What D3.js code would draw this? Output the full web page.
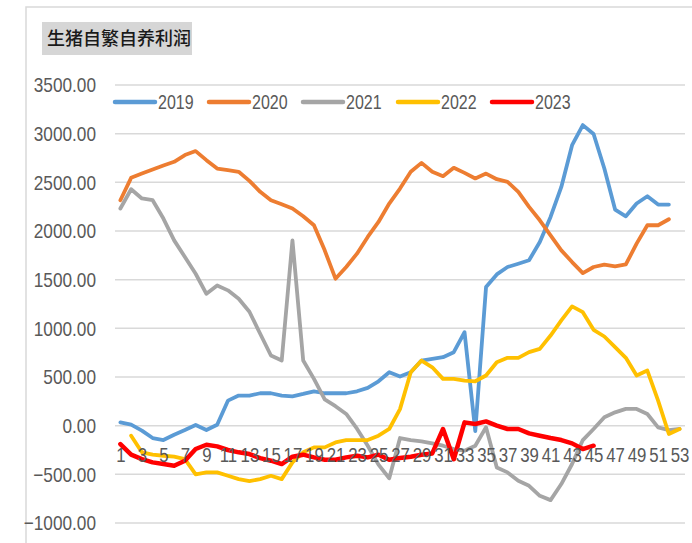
<!DOCTYPE html>
<html><head><meta charset="utf-8">
<script src="https://cdn.jsdelivr.net/npm/d3@7/dist/d3.min.js"></script>
<style>
html,body{margin:0;padding:0;background:#fff;}
svg{display:block;}
</style></head>
<body>
<script>
const weeks = d3.range(1, 54);
const tickLabels = weeks.filter(w => w % 2 === 1);
const yTicks = [-1000, -500, 0, 500, 1000, 1500, 2000, 2500, 3000, 3500];
const seriesNames = ["2019", "2020", "2021", "2022", "2023"];
const seriesColors = ["#5b9bd5", "#ed7d31", "#a5a5a5", "#ffc000", "#ff0000"];
const title = "生猪自繁自养利润";

const v2019 = [34,10,-51,-127,-148,-93,-45,7,-45,10,257,309,309,333,333,309,302,326,353,333,333,333,353,388,456,549,504,549,669,686,703,755,960,-55,1424,1554,1630,1664,1699,1887,2144,2453,2882,3088,2996,2642,2220,2151,2282,2357,2272,2272];
const v2020 = [2316,2546,2590,2632,2673,2711,2780,2821,2728,2642,2625,2608,2515,2402,2316,2275,2231,2151,2059,1801,1510,1630,1767,1939,2093,2282,2436,2608,2700,2608,2563,2649,2597,2540,2590,2532,2505,2402,2248,2110,1956,1801,1681,1568,1630,1654,1637,1657,1870,2059,2059,2121];
const v2021 = [2231,2429,2334,2316,2128,1904,1733,1561,1355,1441,1390,1304,1170,944,721,669,1904,669,481,270,200,120,-31,-206,-400,-540,-127,-148,-161,-182,-206,-240,-257,-206,-17,-429,-480,-566,-618,-721,-765,-600,-394,-148,-34,86,137,172,172,120,-17,-45,-34];
const v2022 = [null,-103,-274,-298,-309,-319,-343,-500,-480,-480,-515,-549,-570,-549,-515,-549,-377,-274,-223,-223,-172,-148,-148,-148,-103,-34,170,549,669,600,481,481,463,456,515,652,697,697,755,789,926,1081,1225,1166,985,916,806,697,515,566,257,-86,-34];
const v2023 = [-189,-298,-343,-377,-394,-412,-360,-240,-196,-213,-250,-274,-292,-333,-360,-394,-319,-298,-326,-350,-350,-326,-309,-326,-298,-350,-333,-319,-298,-285,-34,-345,34,17,44,0,-34,-34,-79,-103,-127,-148,-182,-240,-206];
const seriesValues = [v2019, v2020, v2021, v2022, v2023];

const W = 692, H = 543;
const svg = d3.select("body").append("svg").attr("width", W).attr("height", H);
const FONT = "'Liberation Sans',Arial,sans-serif";
const NARROW = "scale(0.82,1)";

// frame
svg.append("rect").attr("x", 26).attr("y", 7).attr("width", 700).attr("height", 600)
  .attr("fill", "none").attr("stroke", "#d9d9d9").attr("stroke-width", 1.5);

// title
svg.append("rect").attr("x", 42).attr("y", 22).attr("width", 150).attr("height", 33).attr("fill", "#d6d6d6");
svg.append("text").attr("x", 47).attr("y", 45).attr("font-family", "'Noto Sans CJK SC',sans-serif")
  .attr("font-size", 18).attr("font-weight", 500).attr("fill", "#1a1a1a").text(title);

const x = d3.scalePoint().domain(weeks).range([115, 685]).padding(0.5);
const y = d3.scaleLinear().domain([-1000, 3500]).range([523, 85]);

// gridlines
svg.append("g").selectAll("line").data(yTicks).join("line")
  .attr("x1", 115).attr("x2", 685).attr("y1", d => y(d)).attr("y2", d => y(d))
  .attr("stroke", "#d9d9d9").attr("stroke-width", 1.5);

// y axis labels
const yAxis = d3.axisLeft(y).tickValues(yTicks).tickFormat(d3.format(".2f")).tickSize(0).tickPadding(0);
const ga = svg.append("g").attr("transform", "translate(96,0)").call(yAxis);
ga.select(".domain").remove();
ga.selectAll("text").attr("x", 0).attr("font-family", FONT).attr("font-size", 21).attr("fill", "#595959")
  .attr("transform", NARROW);

// lines
const line = d3.line().defined(d => d != null).x((d, i) => x(weeks[i])).y(d => y(d));
seriesValues.forEach((vals, k) => {
  svg.append("path").datum(vals).attr("d", line).attr("fill", "none")
    .attr("stroke", seriesColors[k]).attr("stroke-width", k === 4 ? 4.5 : 3.8)
    .attr("stroke-linejoin", "round").attr("stroke-linecap", "round");
});

// x labels (at zero line)
const xAxis = d3.axisBottom(x).tickValues(tickLabels).tickSize(0).tickPadding(0);
const gx = svg.append("g").attr("transform", "translate(0,445)").call(xAxis);
gx.select(".domain").remove();
gx.selectAll("text").attr("font-family", FONT).attr("font-size", 20.5).attr("fill", "#595959")
  .attr("dy", "0").attr("y", 16.5).attr("transform", NARROW);

// legend
const legendX = [115, 209, 303, 398, 492];
const lg = svg.append("g");
seriesNames.forEach((n, k) => {
  lg.append("line").attr("x1", legendX[k]).attr("x2", legendX[k] + 40).attr("y1", 102).attr("y2", 102)
    .attr("stroke", seriesColors[k]).attr("stroke-width", 4.5).attr("stroke-linecap", "round");
  lg.append("g").attr("transform", `translate(${legendX[k] + 43},109)`)
    .append("text").attr("font-family", FONT).attr("font-size", 19.5).attr("fill", "#595959")
    .attr("transform", NARROW).text(n);
});
</script>
</body></html>
